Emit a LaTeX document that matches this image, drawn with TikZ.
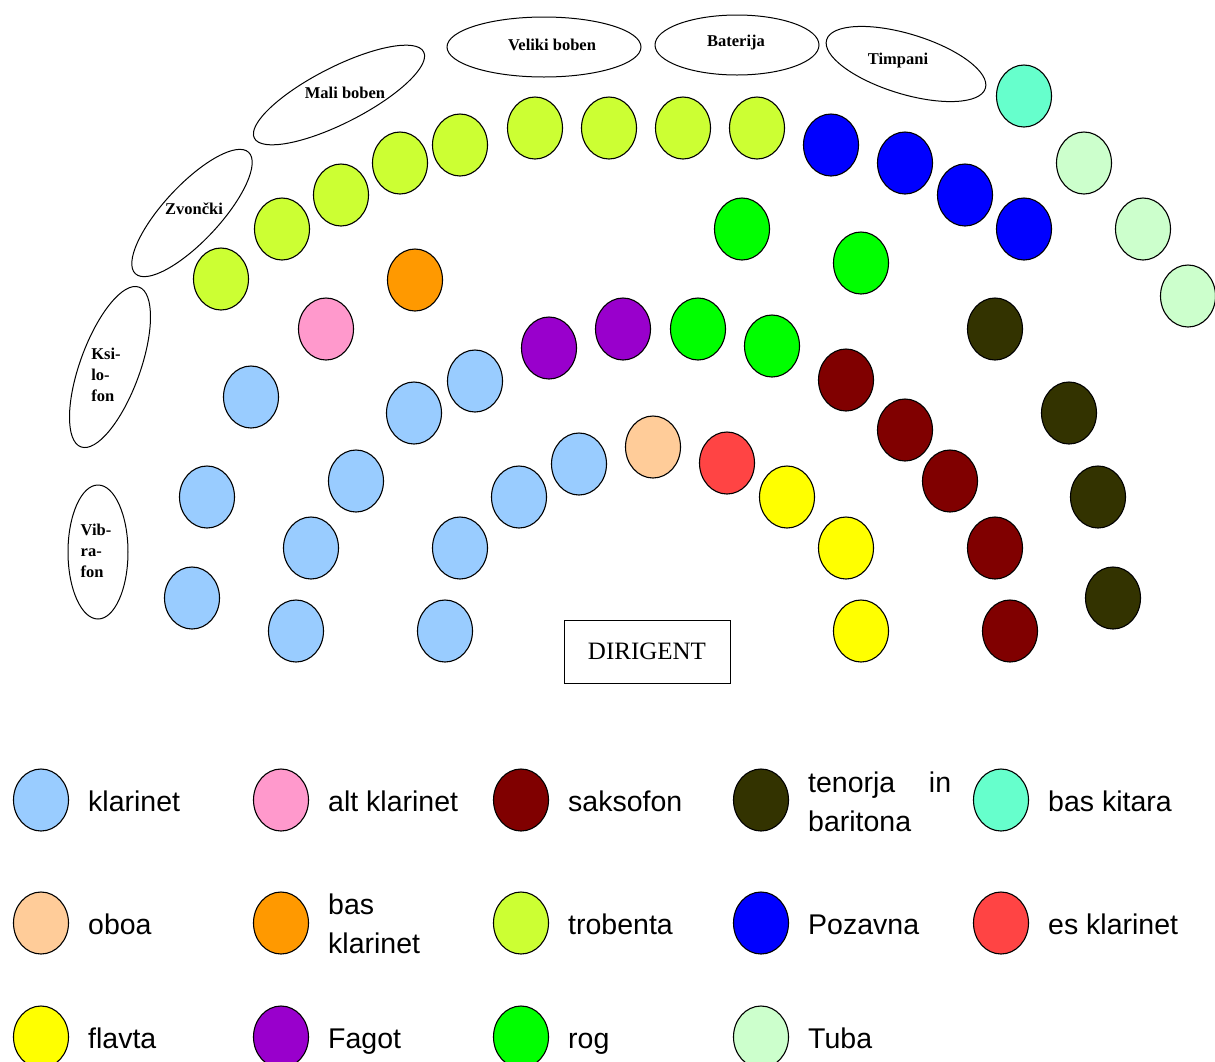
\documentclass[tikz,border=0pt]{standalone}
\usepackage{fontspec}
\setmainfont{Liberation Serif}
\newfontfamily\legfont{Liberation Sans}
\usetikzlibrary{shapes.geometric}
\definecolor{cKlar}{HTML}{99CCFF}
\definecolor{cAlt}{HTML}{FF99CC}
\definecolor{cSaks}{HTML}{800000}
\definecolor{cTen}{HTML}{333300}
\definecolor{cBasKit}{HTML}{66FFCC}
\definecolor{cOboa}{HTML}{FFCC99}
\definecolor{cBasKlar}{HTML}{FF9900}
\definecolor{cTrob}{HTML}{CCFF33}
\definecolor{cPoz}{HTML}{0000FF}
\definecolor{cEs}{HTML}{FF4444}
\definecolor{cFlav}{HTML}{FFFF00}
\definecolor{cFag}{HTML}{9900CC}
\definecolor{cRog}{HTML}{00FF00}
\definecolor{cTuba}{HTML}{CCFFCC}
\begin{document}
\begin{tikzpicture}[x=1pt,y=-1pt,
  seat/.style={ellipse, draw=black, line width=1.1pt, minimum width=55pt, minimum height=62pt, inner sep=0pt},
  inst/.style={ellipse, draw=black, line width=1pt, inner sep=0pt},
  ilabel/.style={font=\fontsize{16.5}{21}\selectfont\bfseries, align=left, inner sep=0pt},
  leg/.style={font=\legfont\fontsize{28.5}{38.5}\selectfont, anchor=base west, align=left, inner sep=0pt},
]
\useasboundingbox (0,0) rectangle (1215,1061);

% percussion ellipses
\node[inst, minimum width=60pt, minimum height=134pt] (vibE) at (98,552) {};
\node[ilabel] (vib) at (96,551) {Vib-\\ra-\\fon};
\node[inst, minimum width=170pt, minimum height=60pt, rotate=70] (ksiE) at (110,367) {};
\node[ilabel] (ksi) at (106,375) {Ksi-\\lo-\\fon};
\node[inst, minimum width=166pt, minimum height=56pt, rotate=47] (zvoE) at (192,213) {};
\node[ilabel] (zvo) at (194,209) {Zvončki};
\node[inst, minimum width=190pt, minimum height=56pt, rotate=27] (malE) at (339,95) {};
\node[ilabel] (mal) at (345,93) {Mali boben};
\node[inst, minimum width=194pt, minimum height=60pt] (velE) at (544,47) {};
\node[ilabel] (vel) at (552,45) {Veliki boben};
\node[inst, minimum width=164pt, minimum height=60pt] (batE) at (737,45) {};
\node[ilabel] (bat) at (736,43) {Baterija};
\node[inst, minimum width=166pt, minimum height=60pt, rotate=-17] (timE) at (906,64) {};
\node[ilabel] (tim) at (898,61) {Timpani};

% trobenta
\foreach \x/\y [count=\i] in {221/279,282/229,341/195,400/163,460/145,535/128,609/128,683/128,757/128}
  \node[seat, fill=cTrob] (trob\i) at (\x,\y) {};
% bas klarinet, alt klarinet
\node[seat, fill=cBasKlar] (basklar1) at (415,280) {};
\node[seat, fill=cAlt] (alt1) at (326,329) {};
% klarinet
\foreach \x/\y [count=\i] in {251/397,207/497,192/598,356/481,311/548,296/631,414/413,475/381,519/497,460/548,445/631,579/464}
  \node[seat, fill=cKlar] (klar\i) at (\x,\y) {};
% fagot
\foreach \x/\y [count=\i] in {549/348,623/329}
  \node[seat, fill=cFag] (fag\i) at (\x,\y) {};
% rog
\foreach \x/\y [count=\i] in {698/329,772/346,742/229,861/263}
  \node[seat, fill=cRog] (rog\i) at (\x,\y) {};
% pozavna
\foreach \x/\y [count=\i] in {831/145,905/163,965/195,1024/229}
  \node[seat, fill=cPoz] (poz\i) at (\x,\y) {};
% bas kitara
\node[seat, fill=cBasKit] (baskit1) at (1024,96) {};
% tuba
\foreach \x/\y [count=\i] in {1084/163,1143/229,1188/296}
  \node[seat, fill=cTuba] (tuba\i) at (\x,\y) {};
% tenorja in baritona
\foreach \x/\y [count=\i] in {995/329,1069/413,1098/497,1113/598}
  \node[seat, fill=cTen] (ten\i) at (\x,\y) {};
% saksofon
\foreach \x/\y [count=\i] in {846/380,905/430,950/481,995/548,1010/631}
  \node[seat, fill=cSaks] (saks\i) at (\x,\y) {};
% oboa, es klarinet
\node[seat, fill=cOboa] (oboa1) at (653,447) {};
\node[seat, fill=cEs] (es1) at (727,463) {};
% flavta
\foreach \x/\y [count=\i] in {787/497,846/548,861/631}
  \node[seat, fill=cFlav] (flav\i) at (\x,\y) {};

% dirigent
\node[draw=black, line width=1pt, minimum width=166pt, minimum height=63pt, font=\fontsize{25}{30}\selectfont] (dir) at (647,651.5) {DIRIGENT};

% legend
\node[seat, fill=cKlar] (lKlar) at (41,800) {};
\node[leg] (tKlar) at (88,811) {klarinet};
\node[seat, fill=cAlt] (lAlt) at (281,800) {};
\node[leg] (tAlt) at (328,811) {alt klarinet};
\node[seat, fill=cSaks] (lSaks) at (521,800) {};
\node[leg] (tSaks) at (568,811) {saksofon};
\node[seat, fill=cTen] (lTen) at (761,800) {};
\node[leg] (tTen) at (808,831) {\makebox[143pt][l]{tenorja\hfill in}\\baritona};
\node[seat, fill=cBasKit] (lBasKit) at (1001,800) {};
\node[leg] (tBasKit) at (1048,811) {bas kitara};

\node[seat, fill=cOboa] (lOboa) at (41,923) {};
\node[leg] (tOboa) at (88,934) {oboa};
\node[seat, fill=cBasKlar] (lBasKlar) at (281,923) {};
\node[leg] (tBasKlar) at (328,953) {bas\\klarinet};
\node[seat, fill=cTrob] (lTrob) at (521,923) {};
\node[leg] (tTrob) at (568,934) {trobenta};
\node[seat, fill=cPoz] (lPoz) at (761,923) {};
\node[leg] (tPoz) at (808,934) {Pozavna};
\node[seat, fill=cEs] (lEs) at (1001,923) {};
\node[leg] (tEs) at (1048,934) {es klarinet};

\node[seat, fill=cFlav] (lFlav) at (41,1037) {};
\node[leg] (tFlav) at (88,1048) {flavta};
\node[seat, fill=cFag] (lFag) at (281,1037) {};
\node[leg] (tFag) at (328,1048) {Fagot};
\node[seat, fill=cRog] (lRog) at (521,1037) {};
\node[leg] (tRog) at (568,1048) {rog};
\node[seat, fill=cTuba] (lTuba) at (761,1037) {};
\node[leg] (tTuba) at (808,1048) {Tuba};
\end{tikzpicture}
\end{document}
